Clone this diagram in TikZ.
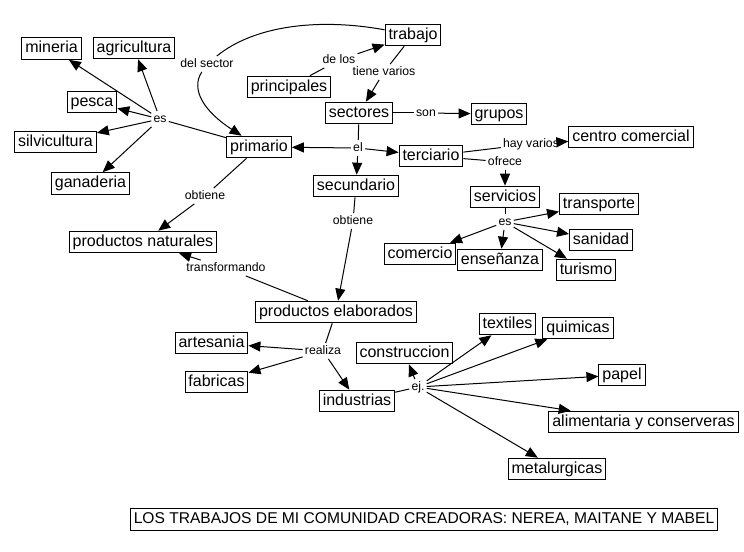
\documentclass[tikz,border=0pt]{standalone}
\usepackage{fontspec}
\setmainfont{Liberation Sans}
\usetikzlibrary{arrows.meta}
\begin{document}
\begin{tikzpicture}[x=0.75pt,y=-0.75pt,
 concept/.style={draw,line width=0.75pt,font=\fontsize{12}{14}\selectfont,inner xsep=2.6pt,inner ysep=2.4pt,text height=8.8pt,text depth=2.6pt},
 lnk/.style={font=\fontsize{9.2}{11}\selectfont,inner sep=1.5pt,text height=6.6pt,text depth=1.9pt},
 conn/.style={line width=0.75pt},
 arr/.style={conn,-{Triangle[length=9pt,width=7.5pt]}}]
\fill[white] (0,0) rectangle (744,552);
\useasboundingbox (0,0) rectangle (744,552);

% concepts
\node[concept] (mineria) at (51.5,48.5) {mineria};
\node[concept] (agricultura) at (134,48) {agricultura};
\node[concept] (pesca) at (92,102) {pesca};
\node[concept] (silvicultura) at (55.5,142) {silvicultura};
\node[concept] (ganaderia) at (90.5,183.5) {ganaderia};
\node[concept] (primario) at (259,147) {primario};
\node[concept] (trabajo) at (413,35) {trabajo};
\node[concept] (principales) at (289,87) {principales};
\node[concept] (sectores) at (359,113) {sectores};
\node[concept] (grupos) at (499,114) {grupos};
\node[concept] (terciario) at (431,156) {terciario};
\node[concept] (secundario) at (356,186) {secundario};
\node[concept] (centro) at (631,137) {centro comercial};
\node[concept] (servicios) at (505,197) {servicios};
\node[concept] (transporte) at (599,204) {transporte};
\node[concept] (sanidad) at (601,240) {sanidad};
\node[concept] (turismo) at (586,270) {turismo};
\node[concept] (comercio) at (420,254) {comercio};
\node[concept] (ensenanza) at (500,260) {enseñanza};
\node[concept] (pnat) at (143,242) {productos naturales};
\node[concept] (pelab) at (336,312) {productos elaborados};
\node[concept] (artesania) at (211.5,343) {artesania};
\node[concept] (fabricas) at (216.5,382) {fabricas};
\node[concept] (industrias) at (357,401) {industrias};
\node[concept] (construccion) at (404.5,353) {construccion};
\node[concept] (textiles) at (507.5,324) {textiles};
\node[concept] (quimicas) at (578,328) {quimicas};
\node[concept] (papel) at (622,375) {papel};
\node[concept] (alimentaria) at (643.5,422) {alimentaria y conserveras};
\node[concept] (metalurgicas) at (557,469) {metalurgicas};
\node[concept,font=\fontsize{11.7}{14}\selectfont] (titulo) at (424,519.5) {LOS TRABAJOS DE MI COMUNIDAD CREADORAS: NEREA, MAITANE Y MABEL};

% linking phrases
\node[lnk] (es1) at (160,119) {es};
\node[lnk] (dels) at (207,64) {del sector};
\node[lnk] (delos) at (339,60) {de los};
\node[lnk] (tiene) at (384,72) {tiene varios};
\node[lnk] (son) at (426,113) {son};
\node[lnk] (el) at (358,148) {el};
\node[lnk] (hay) at (531,144) {hay varios};
\node[lnk] (ofrece) at (505,162) {ofrece};
\node[lnk] (es2) at (505,222) {es};
\node[lnk] (obt1) at (205,196) {obtiene};
\node[lnk] (obt2) at (353,221) {obtiene};
\node[lnk] (transf) at (226,268) {transformando};
\node[lnk] (realiza) at (323,351) {realiza};
\node[lnk] (ej) at (418,387) {ej.};

% connectors
\draw[conn] (primario) -- (es1);
\foreach \t in {mineria,agricultura,pesca,silvicultura,ganaderia} \draw[arr] (es1) -- (\t);

\draw[conn] (trabajo) .. controls (320,18) and (255,25) .. (dels);
\draw[arr] (dels) .. controls (190,90) and (205,112) .. (primario);

\draw[conn] (principales) -- (delos);
\draw[arr] (delos) -- (trabajo);
\draw[conn] (trabajo) -- (tiene);
\draw[arr] (tiene) -- (sectores);
\draw[conn] (sectores) -- (son);
\draw[arr] (son) -- (grupos);
\draw[conn] (sectores) -- (el);
\draw[arr] (el) -- (primario);
\draw[arr] (el) -- (terciario);
\draw[arr] (el) -- (secundario);

\draw[conn] (terciario) -- (hay);
\draw[arr] (hay) -- (centro);
\draw[conn] (terciario) -- (ofrece);
\draw[arr] (ofrece) -- (servicios);
\draw[conn] (servicios) -- (es2);
\foreach \t in {transporte,sanidad,turismo,comercio,ensenanza} \draw[arr] (es2) -- (\t);

\draw[conn] (primario) -- (obt1);
\draw[arr] (obt1) -- (pnat);
\draw[conn] (secundario) -- (obt2);
\draw[arr] (obt2) -- (pelab);
\draw[conn] (pelab) -- (transf);
\draw[arr] (transf) -- (pnat);

\draw[conn] (pelab) -- (realiza);
\foreach \t in {artesania,fabricas,industrias} \draw[arr] (realiza) -- (\t);
\draw[conn] (industrias) -- (ej);
\foreach \t in {construccion,textiles,quimicas,papel,alimentaria,metalurgicas} \draw[arr] (ej) -- (\t);
\end{tikzpicture}
\end{document}
